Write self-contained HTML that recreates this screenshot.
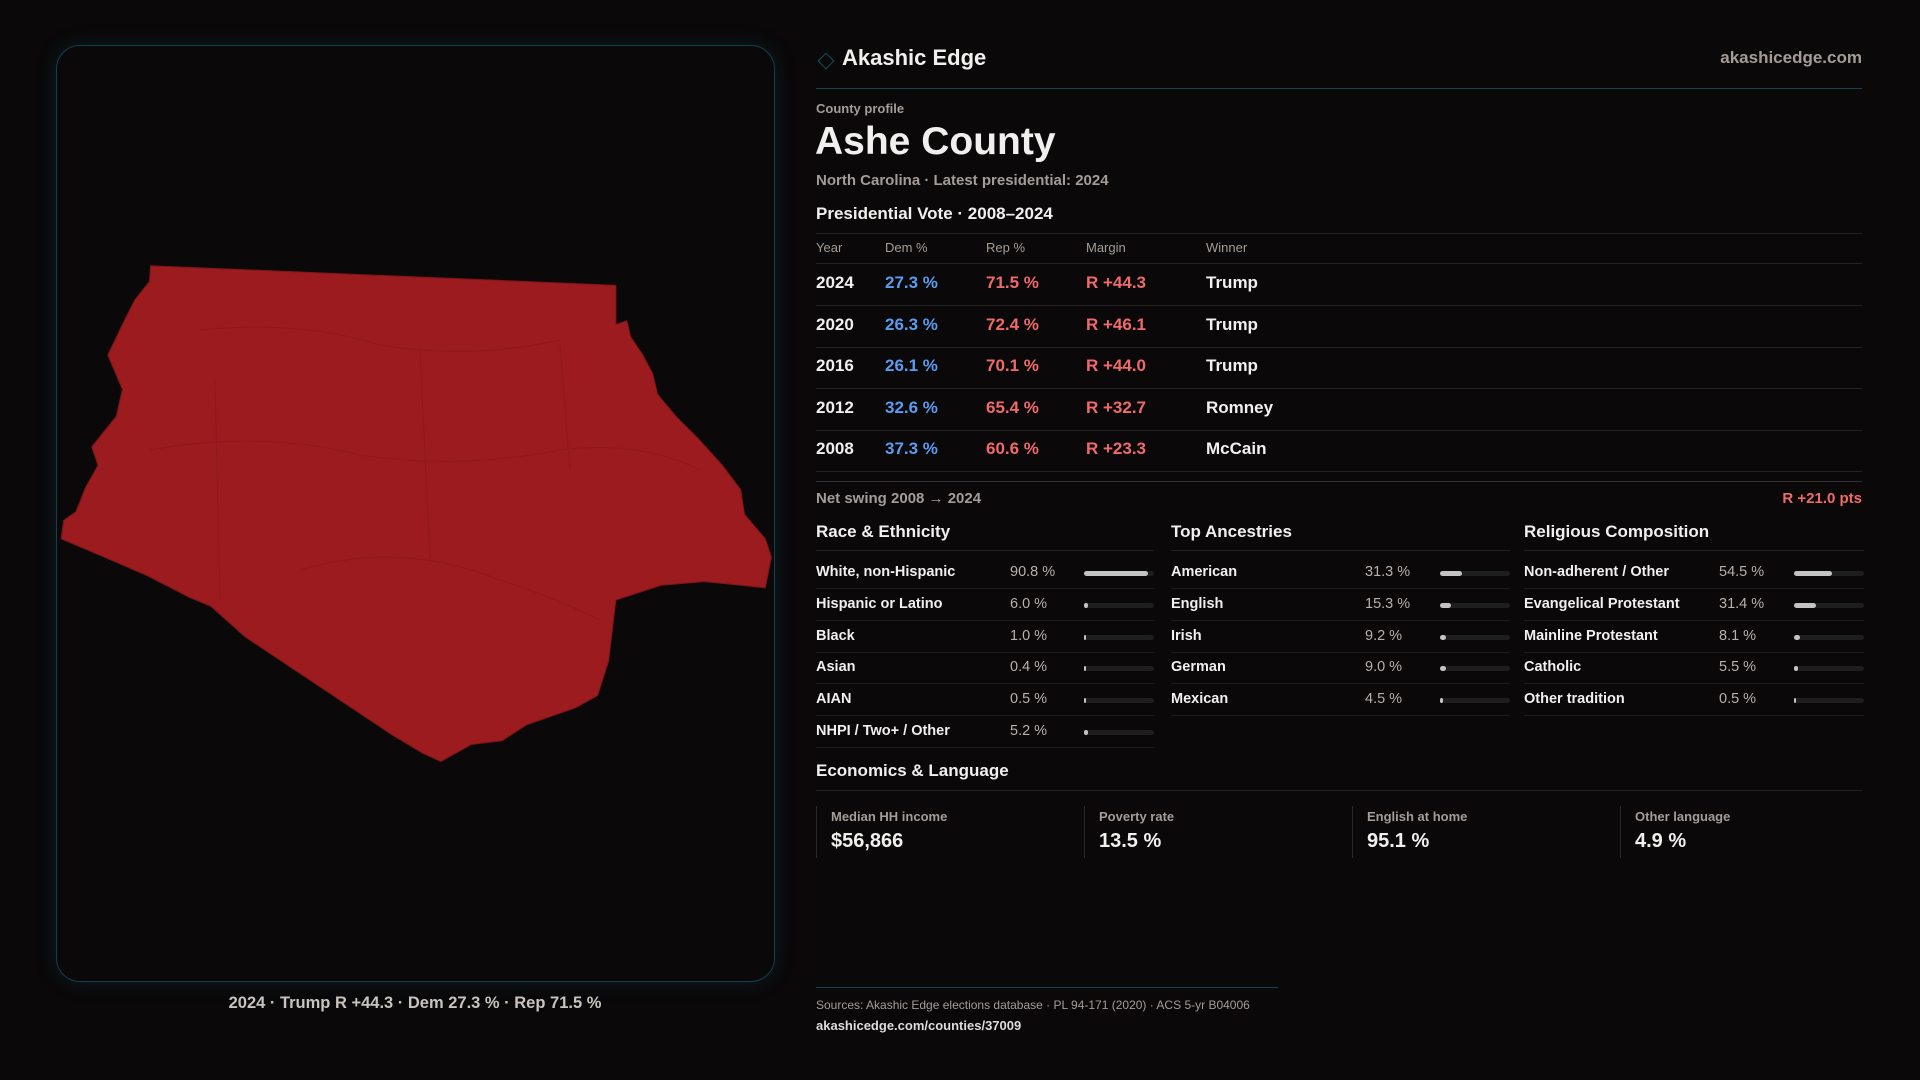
<!DOCTYPE html>
<html><head><meta charset="utf-8"><style>
body{margin:0;width:1920px;height:1080px;background:#0a0809;font-family:"Liberation Sans",sans-serif;color:#f2f0ee;overflow:hidden;position:relative}
.a{position:absolute;white-space:nowrap}
.panel{left:56px;top:45px;width:717px;height:935px;border:1px solid #12414d;border-radius:24px;box-shadow:0 0 20px rgba(20,90,110,.25)}
.hl{position:absolute;height:1px;background:#222}
.g{color:#a59c97}
.blue{color:#5b9cf0}.red{color:#f06a6a}
.row{font-size:17px;font-weight:bold}
.sl{font-size:14.5px;font-weight:bold}
.sv{font-size:14.5px;color:#b8b0ab}
.trk{position:absolute;height:5px;background:#1e1e1e;border-radius:3px}
.fil{position:absolute;left:0;top:0;height:5px;background:#c3c3c3;border-radius:3px}
.card{position:absolute;top:806px;height:52px;border-left:1px solid #2a2a2a}
</style></head><body>
<div class="a panel"></div>
<svg class="a" style="left:0;top:0" width="1920" height="1080">
<polygon id="shape" fill="#9b1b1e" stroke="#7a1518" stroke-width="1"></polygon>
<g stroke="#861719" stroke-width="1" fill="none" opacity=".6">
<path d="M200 330 Q300 320 380 345 Q470 360 560 340 M150 450 Q260 430 360 455 Q460 470 560 450 Q640 440 700 470 M215 380 L220 600 M420 350 L430 560 M560 345 L570 470 M300 570 Q400 540 500 580 Q560 600 600 620"/>
</g>
</svg>
<div class="a" style="left:0;width:830px;top:994px;text-align:center;font-size:16.5px;color:#c9c3bf;font-weight:bold">2024 · Trump R +44.3 · Dem 27.3 % · Rep 71.5 %</div>

<div class="a" style="left:820px;top:55px;width:10px;height:10px;border:1.5px solid #15505e;transform:rotate(45deg)"></div>
<div class="a" style="left:842px;top:45px;font-size:22px;font-weight:bold">Akashic Edge</div>
<div class="a g" style="right:58px;top:48px;font-size:17px;font-weight:bold">akashicedge.com</div>
<div class="hl" style="left:816px;width:1046px;top:88px;background:#14444f"></div>
<div class="a g" style="left:816px;top:101px;font-size:13px;font-weight:bold">County profile</div>
<div class="a" style="left:815px;top:120px;font-size:39px;font-weight:bold">Ashe County</div>
<div class="a g" style="left:816px;top:172px;font-size:15px;font-weight:bold">North Carolina · Latest presidential: 2024</div>
<div class="a" style="left:816px;top:204px;font-size:17px;font-weight:bold">Presidential Vote · 2008–2024</div>
<div class="hl" style="left:816px;width:1046px;top:233px"></div>
<div class="a g" style="left:816px;top:240px;font-size:13px">Year</div>
<div class="a g" style="left:885px;top:240px;font-size:13px">Dem %</div>
<div class="a g" style="left:986px;top:240px;font-size:13px">Rep %</div>
<div class="a g" style="left:1086px;top:240px;font-size:13px">Margin</div>
<div class="a g" style="left:1206px;top:240px;font-size:13px">Winner</div>
<div class="hl" style="left:816px;width:1046px;top:263px"></div>
<div id="vote"></div>
<div class="hl" style="left:816px;width:1046px;top:481px;background:#333"></div>
<div class="a g" style="left:816px;top:490px;font-size:15px;font-weight:bold">Net swing 2008 → 2024</div>
<div class="a red" style="right:58px;top:490px;font-size:15px;font-weight:bold">R +21.0 pts</div>
<div id="demo"></div>
<div class="a" style="left:816px;top:761px;font-size:17px;font-weight:bold">Economics &amp; Language</div>
<div class="hl" style="left:816px;width:1046px;top:790px"></div>
<div id="econ"></div>
<div class="hl" style="left:816px;width:462px;top:987px;background:#14444f"></div>
<div class="a g" style="left:816px;top:998px;font-size:12px">Sources: Akashic Edge elections database · PL 94-171 (2020) · ACS 5-yr B04006</div>
<div class="a" style="left:816px;top:1018px;font-size:13px;font-weight:bold;color:#ddd">akashicedge.com/counties/37009</div>
<script>
const mapX=[123,503,503,512,515,525,533,537,552,570,590,605,608,625,630,625,605,575,540,503,497,488,470,450,430,410,385,360,345,320,290,260,230,200,172,155,120,85,50,52,62,70,80,75,95,100,88,100,110,122];
const mapY=[217,233,265,262,275,290,305,322,340,358,380,400,420,440,455,480,478,475,478,490,540,568,578,585,592,605,608,622,615,600,580,560,540,520,495,488,470,455,440,425,418,398,380,365,340,318,290,265,245,230];
const years=['2024','2020','2016','2012','2008'];
const dem=[27.3,26.3,26.1,32.6,37.3];
const rep=[71.5,72.4,70.1,65.4,60.6];
const margins=[44.3,46.1,44.0,32.7,23.3];
const winners=['Trump','Trump','Trump','Romney','McCain'];
const raceLabels=['White, non-Hispanic','Hispanic or Latino','Black','Asian','AIAN','NHPI / Two+ / Other'];
const raceVals=[90.8,6.0,1.0,0.4,0.5,5.2];
const ancLabels=['American','English','Irish','German','Mexican'];
const ancVals=[31.3,15.3,9.2,9.0,4.5];
const relLabels=['Non-adherent / Other','Evangelical Protestant','Mainline Protestant','Catholic','Other tradition'];
const relVals=[54.5,31.4,8.1,5.5,0.5];
const econLabels=['Median HH income','Poverty rate','English at home','Other language'];
const econVals=['$56,866','13.5 %','95.1 %','4.9 %'];
const S=1920/1568;
document.getElementById('shape').setAttribute('points',mapX.map((x,i)=>(x*S).toFixed(1)+','+(mapY[i]*S).toFixed(1)).join(' '));
function mk(p,cls,txt,st){const d=document.createElement('div');d.className='a '+cls;d.textContent=txt;d.style.cssText=st;p.appendChild(d);return d;}
const V=document.getElementById('vote');
years.forEach((y,i)=>{const t=273+i*41.6;
let e=mk(V,'row',y,`left:816px;top:${t}px`);


e=mk(V,'row blue',dem[i].toFixed(1)+' %',`left:885px;top:${t}px`);


e=mk(V,'row red',rep[i].toFixed(1)+' %',`left:986px;top:${t}px`);


e=mk(V,'row red','R +'+margins[i].toFixed(1),`left:1086px;top:${t}px`);


e=mk(V,'row',winners[i],`left:1206px;top:${t}px`);


const l=document.createElement('div');l.className='hl';l.style.cssText=`left:816px;width:1046px;top:${305+i*41.6}px`;V.appendChild(l);});
const D=document.getElementById('demo');
function group(x,title,labels,vals,valX,barX,endX){
let h=mk(D,'',title,`left:${x}px;top:522px;font-size:17px;font-weight:bold`);


const hl=document.createElement('div');hl.className='hl';hl.style.cssText=`left:${x}px;width:${endX-x}px;top:550px`;D.appendChild(hl);
labels.forEach((lb,i)=>{const t=564+i*31.8;
let e=mk(D,'sl',lb,`left:${x}px;top:${t}px`);


e=mk(D,'sv',vals[i].toFixed(1)+' %',`left:${valX}px;top:${t}px`);


const tr=document.createElement('div');tr.className='trk';tr.style.cssText=`left:${barX}px;width:${endX-barX}px;top:${t+7}px`;


const f=document.createElement('div');f.className='fil';f.style.width=Math.max(2,(endX-barX)*vals[i]/100)+'px';


tr.appendChild(f);D.appendChild(tr);
const dl=document.createElement('div');dl.className='hl';dl.style.cssText=`left:${x}px;width:${endX-x}px;top:${t+24}px;background:#1c1c1c`;D.appendChild(dl);});}
group(816,'Race & Ethnicity',raceLabels,raceVals,1010,1084,1154);
group(1171,'Top Ancestries',ancLabels,ancVals,1365,1440,1510);
group(1524,'Religious Composition',relLabels,relVals,1719,1794,1864);
const E=document.getElementById('econ');
econLabels.forEach((lb,i)=>{const c=document.createElement('div');c.className='card';c.style.left=(816+i*268)+'px';c.style.width='260px';


E.appendChild(c);
mk(c,'g',lb,'left:14px;top:3px;font-size:13px;font-weight:bold');
mk(c,'',econVals[i],'left:14px;top:24px;font-size:20px;font-weight:bold');});
</script>
</body></html>
